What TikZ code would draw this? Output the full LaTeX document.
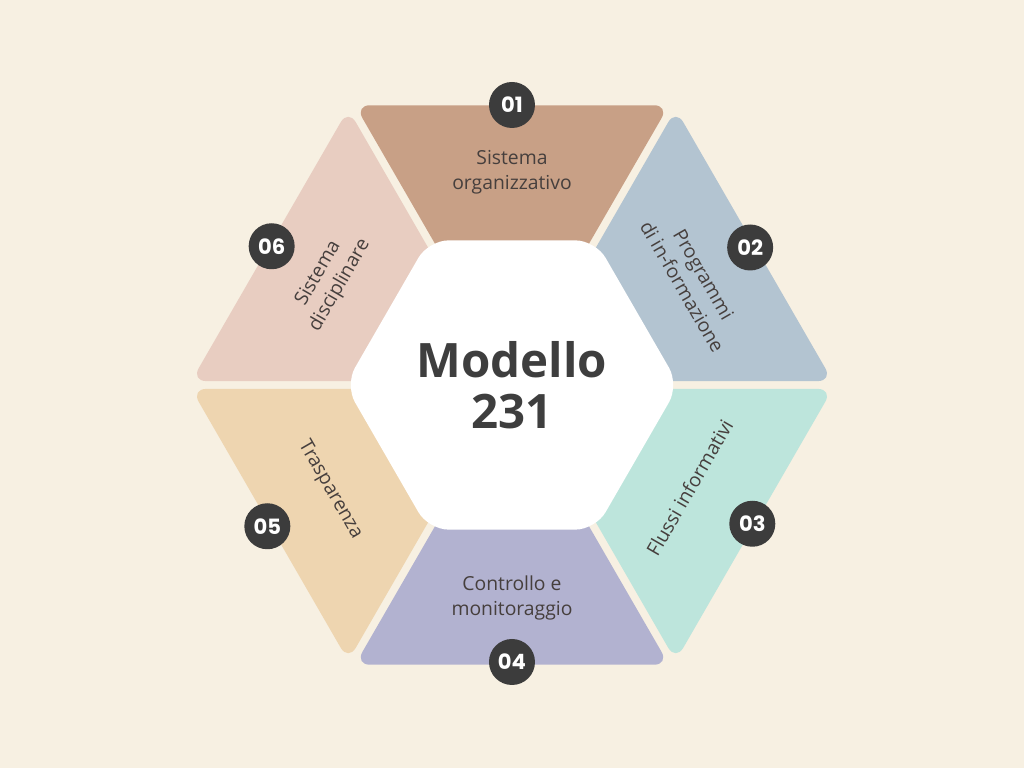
\documentclass[tikz,border=0pt]{standalone}
\usepackage{fontspec}
\setmainfont{Open Sans}
\newfontfamily\badgefont{Poppins}
\usetikzlibrary{calc}

\definecolor{bgcream}{HTML}{F7F0E2}
\definecolor{segtan}{HTML}{C8A086}
\definecolor{segblue}{HTML}{B3C4D1}
\definecolor{segmint}{HTML}{BDE5DC}
\definecolor{seglav}{HTML}{B2B2D0}
\definecolor{segpeach}{HTML}{EED5B0}
\definecolor{segpink}{HTML}{E8CDC1}
\definecolor{badgegray}{HTML}{3C3C3C}
\definecolor{labelgray}{HTML}{463F3D}
\definecolor{titlegray}{HTML}{3E3E3E}

\tikzset{
  badge/.style={circle, fill=badgegray, text=white, minimum size=0.92cm, inner sep=0pt,
    font=\badgefont\bfseries\fontsize{12}{12}\selectfont},
  seglabel/.style={align=center, text=labelgray, font=\fontsize{11}{14}\selectfont},
}

\begin{document}
\begin{tikzpicture}
  \fill[bgcream] (-10.24,-7.66) rectangle (10.24,7.70);
  \useasboundingbox (-10.24,-7.66) rectangle (10.24,7.70);

  % six trapezoid segments, gaps along the radii
  \foreach \a/\b/\col in {60/120/segtan, 0/60/segblue, 300/360/segmint,
                          240/300/seglav, 180/240/segpeach, 120/180/segpink}
    \fill[\col, rounded corners=0.3cm]
      ({(\a+\b)/2}:0.16)
      -- ($(\a:6.46)!0.09cm!(\b:6.46)$)
      -- ($(\b:6.46)!0.09cm!(\a:6.46)$)
      -- cycle;

  % white hexagon in the middle
  \fill[white, rounded corners=0.4cm]
    (0:3.34) -- (60:3.34) -- (120:3.34) -- (180:3.34) -- (240:3.34) -- (300:3.34) -- cycle;
  \node[text=titlegray, align=center, font=\bfseries\fontsize{27}{29}\selectfont] (title) at (0,0) {Modello\\231};

  % labels
  \node[seglabel] (lab1) at (90:4.26) {Sistema\\organizzativo};
  \node[seglabel, rotate=-60] (lab2) at (30:4.18) {Programmi\\di in-formazione};
  \node[seglabel, rotate=60] (lab3) at (-30:4.1) {Flussi informativi};
  \node[seglabel] (lab4) at (270:4.26) {Controllo e\\monitoraggio};
  \node[seglabel, rotate=-60] (lab5) at (210:4.2) {Trasparenza};
  \node[seglabel, rotate=60] (lab6) at (150:4.22) {Sistema\\disciplinare};

  % number badges on the outer edges
  \node[badge] (b1) at (90:5.6) {01};
  \node[badge] (b2) at (30:5.5) {02};
  \node[badge] (b3) at (-30:5.55) {03};
  \node[badge] (b4) at (270:5.54) {04};
  \node[badge] (b5) at (210:5.65) {05};
  \node[badge] (b6) at (150:5.55) {06};
\end{tikzpicture}
\end{document}
